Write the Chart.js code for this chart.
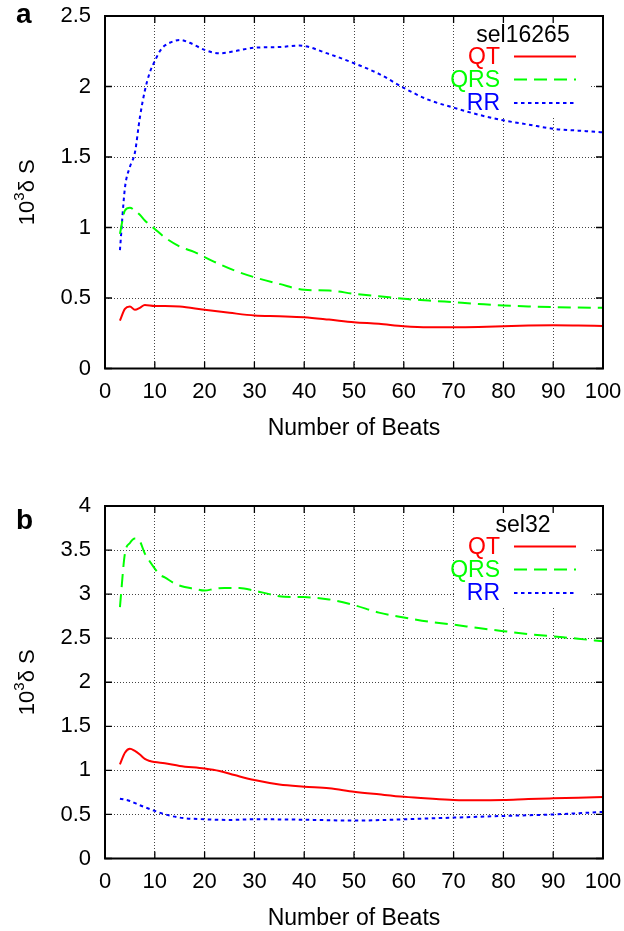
<!DOCTYPE html>
<html>
<head>
<meta charset="utf-8">
<script src="https://cdn.jsdelivr.net/npm/chart.js@4.4.1/dist/chart.umd.min.js"></script>
<style>
  body { margin: 0; background: #fff; width: 624px; height: 931px; position: relative; overflow: hidden; }
  canvas { position: absolute; left: 0; }
  #chartA { top: 0; }
  #chartB { top: 490px; }
</style>
</head>
<body>
<canvas id="chartA" width="624" height="441"></canvas>
<canvas id="chartB" width="624" height="441"></canvas>
<script>
// Panel a (sel16265)
const beatsA_qt = [3, 4, 5, 6, 7, 8, 10, 12, 15, 20, 25, 30, 35, 40, 45, 50, 55, 60, 65, 70, 75, 80, 85, 90, 95, 100];
const qtA = [0.34, 0.423, 0.44, 0.416, 0.43, 0.451, 0.444, 0.444, 0.44, 0.416, 0.395, 0.376, 0.371, 0.364, 0.347, 0.328, 0.317, 0.30, 0.293, 0.293, 0.295, 0.30, 0.305, 0.307, 0.305, 0.302];
const beatsA_qrs = [3, 4, 5, 6, 7, 8, 10, 12, 15, 18, 20, 23, 26, 30, 35, 40, 45, 50, 55, 60, 65, 70, 75, 80, 85, 90, 95, 100];
const qrsA = [0.955, 1.12, 1.14, 1.12, 1.09, 1.05, 0.99, 0.93, 0.865, 0.825, 0.79, 0.74, 0.695, 0.647, 0.60, 0.558, 0.553, 0.53, 0.513, 0.494, 0.482, 0.47, 0.458, 0.447, 0.44, 0.435, 0.432, 0.43];
const beatsA_rr = [3, 4, 5, 6, 7, 8, 9, 10, 11, 12, 13, 15, 17, 20, 23, 26, 30, 35, 39, 45, 50, 55, 60, 65, 70, 75, 80, 85, 90, 95, 100];
const rrA = [0.84, 1.28, 1.43, 1.53, 1.78, 1.97, 2.10, 2.18, 2.25, 2.29, 2.31, 2.33, 2.31, 2.26, 2.235, 2.25, 2.275, 2.28, 2.29, 2.23, 2.165, 2.09, 1.99, 1.905, 1.85, 1.80, 1.76, 1.73, 1.70, 1.687, 1.675];

// Panel b (sel32)
const beatsB_qt = [3, 4, 5, 6, 7, 8, 9, 10, 12, 15, 20, 23, 26, 30, 35, 40, 45, 50, 55, 60, 65, 70, 75, 80, 85, 90, 95, 100];
const qtB = [1.068, 1.20, 1.245, 1.22, 1.18, 1.13, 1.106, 1.094, 1.08, 1.05, 1.02, 0.992, 0.947, 0.89, 0.84, 0.815, 0.796, 0.758, 0.728, 0.70, 0.68, 0.664, 0.66, 0.664, 0.675, 0.683, 0.69, 0.698];
const beatsB_qrs = [3, 4, 5, 6, 7, 8, 9, 10, 11, 12, 14, 16, 18, 20, 22, 24, 27, 30, 33, 36, 40, 45, 50, 55, 60, 65, 70, 75, 80, 85, 90, 95, 100];
const qrsB = [2.853, 3.46, 3.58, 3.63, 3.60, 3.46, 3.37, 3.29, 3.22, 3.19, 3.12, 3.08, 3.06, 3.04, 3.06, 3.07, 3.07, 3.04, 3.00, 2.97, 2.966, 2.94, 2.875, 2.79, 2.735, 2.687, 2.653, 2.615, 2.58, 2.547, 2.52, 2.494, 2.464];
const beatsB_rr = [3, 5, 7, 10, 12, 15, 20, 25, 30, 40, 50, 60, 70, 80, 90, 100];
const rrB = [0.679, 0.653, 0.604, 0.54, 0.502, 0.464, 0.445, 0.438, 0.445, 0.44, 0.43, 0.445, 0.464, 0.483, 0.50, 0.528];

// Ticks and labels
const xTicks = [0, 10, 20, 30, 40, 50, 60, 70, 80, 90, 100];
const yTicksA = [0, 0.5, 1, 1.5, 2, 2.5];
const yTicksB = [0, 0.5, 1, 1.5, 2, 2.5, 3, 3.5, 4];
const seriesNames = ['QT', 'QRS', 'RR'];
const seriesColors = ['#ff0000', '#00ff00', '#0000ff'];
const seriesDash = [[], [13, 7], [3.5, 3.5]];

const FONT = "'Liberation Sans', Arial, sans-serif";
Chart.defaults.font.family = FONT;
Chart.defaults.color = '#000';

function pts(xs, ys) {
    return xs.map((x, i) => ({ x: x, y: ys[i] }));
}

// frame, tick marks, legend and labels drawn the gnuplot way
const gnuplotLook = {
    id: 'gnuplotLook',
    beforeDatasetsDraw(chart) {
        const { ctx, chartArea: a } = chart;
        // key box hides the grid behind it
        ctx.save();
        ctx.fillStyle = '#fff';
        ctx.fillRect(a.right - 148, a.top + 1, 134, 99);
        ctx.restore();
    },
    afterDatasetsDraw(chart, args, opts) {
        const { ctx, chartArea: a, scales: { x, y } } = chart;
        ctx.save();
        ctx.strokeStyle = '#000';
        ctx.lineWidth = 1.3;
        ctx.setLineDash([]);
        ctx.beginPath();
        x.ticks.forEach(t => {
            const px = x.getPixelForValue(t.value);
            ctx.moveTo(px, a.bottom); ctx.lineTo(px, a.bottom - 7);
            ctx.moveTo(px, a.top); ctx.lineTo(px, a.top + 7);
        });
        y.ticks.forEach(t => {
            const py = y.getPixelForValue(t.value);
            ctx.moveTo(a.left, py); ctx.lineTo(a.left + 7, py);
            ctx.moveTo(a.right, py); ctx.lineTo(a.right - 7, py);
        });
        ctx.stroke();
        ctx.lineWidth = 2;
        ctx.strokeRect(a.left, a.top, a.right - a.left, a.bottom - a.top);

        // key
        ctx.font = '23px ' + FONT;
        ctx.textAlign = 'center';
        ctx.textBaseline = 'alphabetic';
        ctx.fillStyle = '#000';
        ctx.fillText(opts.keyTitle, a.right - 80, a.top + 26);
        const rows = [47.5, 70.5, 94];
        chart.data.datasets.forEach((ds, i) => {
            ctx.textAlign = 'right';
            ctx.fillStyle = ds.borderColor;
            ctx.fillText(ds.label, a.right - 103, a.top + rows[i]);
            ctx.strokeStyle = ds.borderColor;
            ctx.lineWidth = 2.2;
            ctx.setLineDash(ds.borderDash);
            ctx.beginPath();
            ctx.moveTo(a.right - 89, a.top + rows[i] - 7);
            ctx.lineTo(a.right - 27, a.top + rows[i] - 7);
            ctx.stroke();
        });
        ctx.setLineDash([]);

        // x title
        ctx.fillStyle = '#000';
        ctx.textAlign = 'center';
        ctx.font = '23px ' + FONT;
        ctx.fillText('Number of Beats', (a.left + a.right) / 2, a.bottom + 66);

        // y title: 10^3 delta S
        ctx.translate(33.5, (a.top + a.bottom) / 2);
        ctx.rotate(-Math.PI / 2);
        ctx.textAlign = 'left';
        const big = '22px ' + FONT, small = '15px ' + FONT;
        ctx.font = big;
        const w1 = ctx.measureText('10').width;
        const w3 = ctx.measureText('δ S').width;
        ctx.font = small;
        const w2 = ctx.measureText('3').width;
        let cx = -(w1 + w2 + w3) / 2;
        ctx.font = big;
        ctx.fillText('10', cx, 0);
        cx += w1;
        ctx.font = small;
        ctx.fillText('3', cx, -10);
        cx += w2;
        ctx.font = big;
        ctx.fillText('δ S', cx, 0);
        ctx.restore();

        // panel letter
        ctx.save();
        ctx.font = 'bold 28px ' + FONT;
        ctx.fillStyle = '#000';
        ctx.textAlign = 'left';
        ctx.fillText(opts.letter, 16, opts.letterY);
        ctx.restore();
    }
};

function makePanel(canvasId, qt, qrs, rr, yTicks, yMax, keyTitle, letter, letterY) {
    const ctx = document.getElementById(canvasId).getContext('2d');
    return new Chart(ctx, {
        type: 'line',
        data: {
            datasets: [qt, qrs, rr].map((d, i) => ({
                label: seriesNames[i],
                data: d,
                borderColor: seriesColors[i],
                backgroundColor: seriesColors[i],
                borderDash: seriesDash[i],
                borderWidth: 2,
                pointRadius: 0,
                fill: false,
                cubicInterpolationMode: 'monotone'
            }))
        },
        options: {
            responsive: false,
            animation: false,
            devicePixelRatio: 1,
            layout: { padding: { top: 16, right: 21, left: 0, bottom: 0 } },
            plugins: {
                legend: { display: false },
                tooltip: { enabled: false },
                gnuplotLook: { keyTitle: keyTitle, letter: letter, letterY: letterY }
            },
            scales: {
                x: {
                    type: 'linear',
                    min: 0,
                    max: 100,
                    afterBuildTicks: scale => { scale.ticks = xTicks.map(v => ({ value: v })); },
                    afterFit: scale => {
                        scale.height = 72.5;
                        scale.paddingLeft = 0;
                        scale.paddingRight = 0;
                    },
                    grid: { color: '#444', lineWidth: 1, drawTicks: false },
                    border: { display: false, dash: [1, 2] },
                    ticks: {
                        padding: 10,
                        maxRotation: 0,
                        font: { size: 22 },
                        callback: v => String(v)
                    }
                },
                y: {
                    type: 'linear',
                    min: 0,
                    max: yMax,
                    afterBuildTicks: scale => { scale.ticks = yTicks.map(v => ({ value: v })); },
                    afterFit: scale => {
                        scale.width = 105;
                        scale.paddingTop = 0;
                        scale.paddingBottom = 0;
                    },
                    grid: { color: '#444', lineWidth: 1, drawTicks: false },
                    border: { display: false, dash: [1, 2] },
                    ticks: {
                        padding: 14,
                        font: { size: 22 },
                        callback: v => String(v)
                    }
                }
            }
        },
        plugins: [gnuplotLook]
    });
}

makePanel('chartA', pts(beatsA_qt, qtA), pts(beatsA_qrs, qrsA), pts(beatsA_rr, rrA),
    yTicksA, 2.5, 'sel16265', 'a', 23);
makePanel('chartB', pts(beatsB_qt, qtB), pts(beatsB_qrs, qrsB), pts(beatsB_rr, rrB),
    yTicksB, 4, 'sel32', 'b', 38.5);
</script>
</body>
</html>
